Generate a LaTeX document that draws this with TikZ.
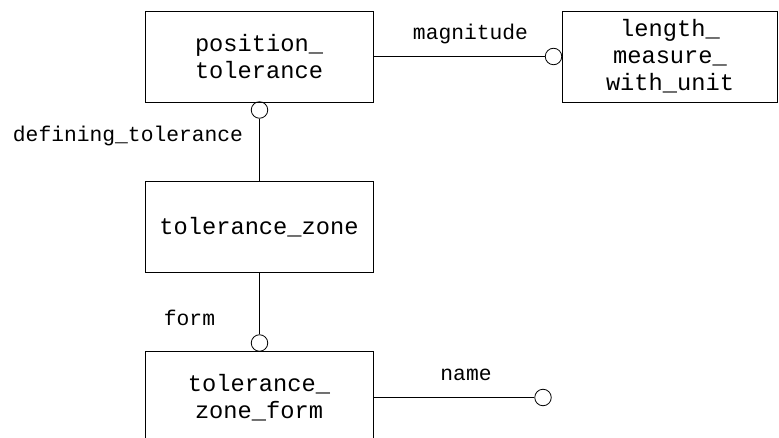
\documentclass[tikz,border=0pt]{standalone}
\usepackage{fontspec}
\setmonofont{Liberation Mono}
\usetikzlibrary{positioning}
\newcommand{\entfont}{\ttfamily\fontsize{23.7}{27}\selectfont}
\newcommand{\rolefont}{\ttfamily\fontsize{21.3}{24}\selectfont}
\tikzset{
  entity/.style={draw, line width=0.8pt, align=center, font=\entfont,
    minimum width=228pt, minimum height=91pt, inner sep=0pt},
  ring/.style={draw, circle, line width=0.8pt, minimum size=16.5pt, inner sep=0pt},
  role/.style={font=\rolefont, inner sep=0pt},
  link/.style={line width=0.8pt},
}

\begin{document}
\begin{tikzpicture}[x=1pt, y=-1pt]
        \useasboundingbox (0,0) rectangle (779,438);
        % entities
        \node[entity] (postol) at (259,56.5) {position\_\\tolerance};
        \node[entity, minimum width=215pt] (lmwu) at (670,56.5) {length\_\\measure\_\\with\_unit};
        \node[entity] (tolzone) at (259,227) {tolerance\_zone};
        \node[entity, minimum height=93pt] (zoneform) at (259,397.5) {tolerance\_\\zone\_form};
        % rings
        \node[ring] (rmag) at (553.5,56.5) {};
        \node[ring] (rdef) at (259.5,110) {};
        \node[ring] (rform) at (259.5,343) {};
        \node[ring] (rname) at (543,397.5) {};
        % links
        \draw[link] (postol.east) -- (rmag.west);
        \draw[link] (rdef.south) -- (tolzone.north -| rdef.south);
        \draw[link] (tolzone.south -| rform.north) -- (rform.north);
        \draw[link] (zoneform.east) -- (rname.west);
        % roles
        \node[role] (lmag) at (470.5,34) {magnitude};
        \node[role] (ldef) at (128,136) {defining\_tolerance};
        \node[role] (lform) at (189.5,318) {form};
        \node[role] (lname) at (466,375) {name};
\end{tikzpicture}
\end{document}
